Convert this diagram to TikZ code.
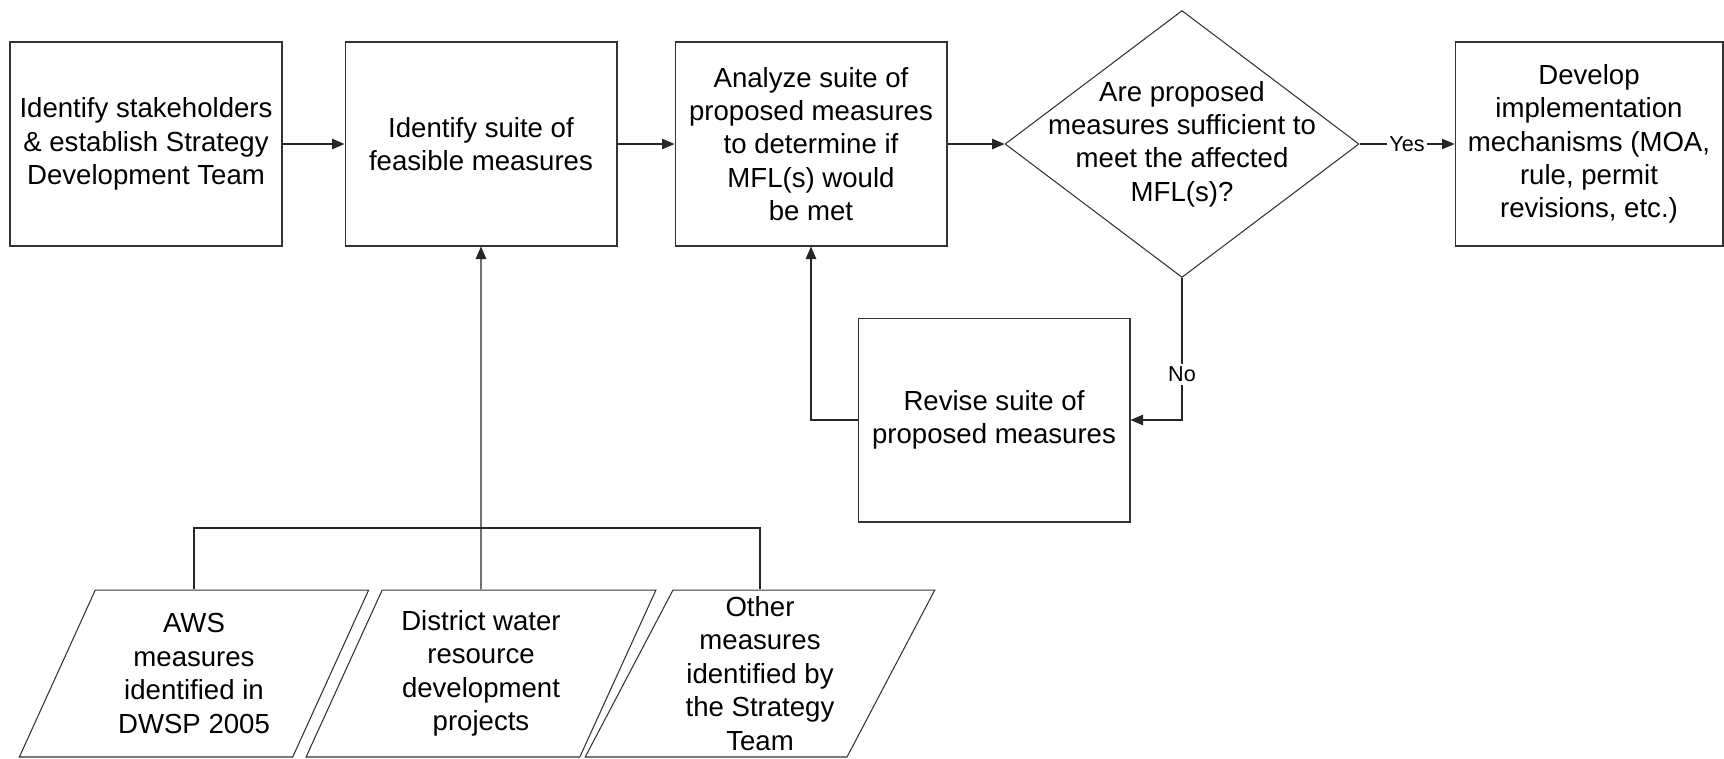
\documentclass[tikz,border=0pt]{standalone}
\usepackage{fontspec}
\setmainfont{Liberation Sans}
\usetikzlibrary{arrows.meta,shapes.geometric}
\begin{document}
\begin{tikzpicture}[x=0.02cm, y=-0.02cm, line width=0.6pt,
  txt/.style={align=center, font=\fontsize{15.7}{19}\selectfont},
  box/.style={txt, draw=black!80, rectangle, minimum width=5.44cm, minimum height=4.08cm, inner sep=0pt},
  decision/.style={draw=black!80, diamond, minimum width=7.08cm, minimum height=5.34cm, inner sep=0pt},
  source/.style={txt, draw=black!80, trapezium, trapezium left angle=64, trapezium right angle=116,
    trapezium stretches=true, minimum width=7cm, minimum height=3.34cm, inner sep=0pt},
  conn/.style={draw=black!85, -{Triangle[length=0.25cm, width=0.21cm]}},
  line/.style={draw=black!85},
  lbl/.style={fill=white, inner sep=1.5pt, font=\fontsize{12.3}{14}\selectfont}]
\useasboundingbox (0,0) rectangle (1724,758);
\node[box] (stake) at (146,144) {Identify stakeholders\\\& establish Strategy\\Development Team};
\node[box] (feas) at (481,144) {Identify suite of\\feasible measures};
\node[box] (analyze) at (811,144) {Analyze suite of\\proposed measures\\to determine if\\MFL(s) would\\be met};
\node[decision] (suff) at (1182,144) {};
\node[txt] (sufftext) at (suff.center) {Are proposed\\measures sufficient to\\meet the affected\\MFL(s)?};
\node[box, minimum width=5.36cm] (impl) at (1589,144) {Develop\\implementation\\mechanisms (MOA,\\rule, permit\\revisions, etc.)};
\node[box] (revise) at (994,420) {Revise suite of\\proposed measures};
\node[source] (aws) at (194,673.5) {AWS\\measures\\identified in\\DWSP 2005};
\node[source] (dist) at (481,673.5) {District water\\resource\\development\\projects};
\node[source] (other) at (760,673.5) {Other\\measures\\identified by\\the Strategy\\Team};
\coordinate (bus) at (481,528);
\draw[conn] (stake.east) -- (feas.west);
\draw[conn] (feas.east) -- (analyze.west);
\draw[conn] (analyze.east) -- (suff.west);
\draw[conn] (suff.east) -- node[lbl] {Yes} (impl.west);
\draw[conn] (suff.south) |- node[lbl, pos=0.34] {No} (revise.east);
\draw[conn] (revise.west) -| (analyze.south);
\draw[line] (aws.north) -- (aws.north |- bus) -- (other.north |- bus) -- (other.north);
\draw[conn] (dist.north) -- (feas.south);
\end{tikzpicture}
\end{document}
